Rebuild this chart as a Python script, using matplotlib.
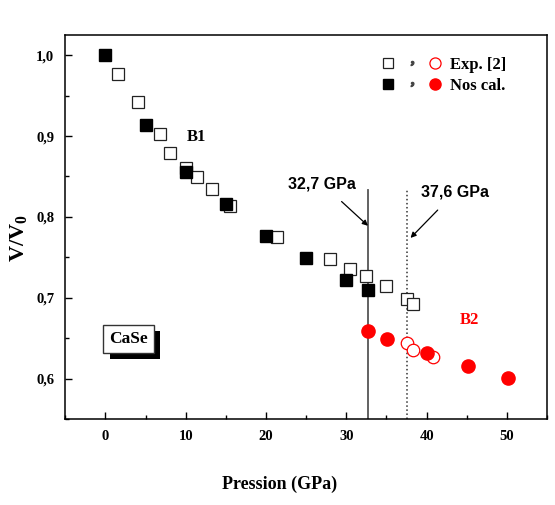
import numpy as np
import matplotlib
matplotlib.use('Agg')
import matplotlib.pyplot as plt
import matplotlib.patheffects as pe
from matplotlib.ticker import MultipleLocator, FuncFormatter
from matplotlib.lines import Line2D
from matplotlib.legend_handler import HandlerTuple

plt.rcParams['font.family'] = 'Liberation Serif'
plt.rcParams['font.weight'] = 'bold'
plt.rcParams['axes.labelweight'] = 'bold'
plt.rcParams['mathtext.fontset'] = 'custom'
plt.rcParams['mathtext.bf'] = 'Liberation Serif:bold'
plt.rcParams['mathtext.rm'] = 'Liberation Serif:bold'

# experimental B1 (open squares)
exp_b1_p = [1.5, 4.1, 6.75, 8.0, 10.0, 11.4, 13.25, 15.5, 21.4, 28.0, 30.4, 32.5, 35.0, 37.6, 38.25]
exp_b1_v = [0.977, 0.942, 0.902, 0.879, 0.861, 0.849, 0.834, 0.813, 0.775, 0.748, 0.735, 0.727, 0.714, 0.698, 0.692]
# calculated B1 (filled squares)
cal_b1_p = [0, 5, 10, 15, 20, 25, 30, 32.7]
cal_b1_v = [1.0, 0.914, 0.856, 0.816, 0.776, 0.749, 0.722, 0.709]
# experimental B2 (open circles)
exp_b2_p = [37.5, 38.3, 40.8]
exp_b2_v = [0.644, 0.635, 0.627]
# calculated B2 (filled circles)
cal_b2_p = [32.7, 35.1, 40.1, 45.1, 50.2]
cal_b2_v = [0.659, 0.649, 0.632, 0.616, 0.601]

p_trans_cal = 32.7
p_trans_exp = 37.6

fig = plt.figure(figsize=(5.55, 5.05), dpi=100)
ax = fig.add_axes([0.1177, 0.1703, 0.8679, 0.7604])

ms = 8.5
ax.plot(exp_b1_p, exp_b1_v, 's', ms=ms, mfc='white', mec='#222222', mew=0.9, ls='none', zorder=3)
ax.plot(cal_b1_p, cal_b1_v, 's', ms=ms, mfc='black', mec='black', ls='none', zorder=4)
ax.plot(exp_b2_p, exp_b2_v, 'o', ms=ms+0.5, mfc='white', mec='red', mew=0.9, ls='none', zorder=3)
ax.plot(cal_b2_p, cal_b2_v, 'o', ms=ms+1, mfc='red', mec='red', ls='none', zorder=4)

# transition pressures
ax.plot([p_trans_cal, p_trans_cal], [0.55, 0.833], '-', color='#555555', lw=1.3, zorder=2)
ax.plot([p_trans_exp, p_trans_exp], [0.55, 0.833], ':', color='#333333', lw=1.1, zorder=2)

sans = ['Liberation Sans', 'DejaVu Sans']
ax.annotate('32,7 GPa', xy=(32.7, 0.789), xytext=(27.0, 0.841), ha='center', va='center',
            fontsize=11.5, family=sans, weight='bold',
            arrowprops=dict(arrowstyle='-|>', color='black', lw=0.9, shrinkA=8, shrinkB=0,
                            mutation_scale=8))
ax.annotate('37,6 GPa', xy=(38.0, 0.774), xytext=(43.6, 0.831), ha='center', va='center',
            fontsize=11.5, family=sans, weight='bold',
            arrowprops=dict(arrowstyle='-|>', color='black', lw=0.9, shrinkA=8, shrinkB=0,
                            mutation_scale=8))

ax.text(11.3, 0.8994, 'B1', fontsize=12, ha='center', va='center')
ax.text(45.4, 0.673, 'B2', fontsize=12, ha='center', va='center', color='red')

# CaSe label with drop shadow
t = ax.text(2.9, 0.649, 'CaSe', fontsize=12.5, ha='center', va='center', color='black',
            bbox=dict(boxstyle='square,pad=0.35', fc='white', ec='#333333', lw=1), zorder=6)
t.get_bbox_patch().set_path_effects([
    pe.SimplePatchShadow(offset=(4.5, -4.5), shadow_rgbFace='black', alpha=1.0),
    pe.Normal()])

# legend
comma = Line2D([], [], marker='$,$', color='#444444', ls='none', ms=3)
h_exp = (Line2D([], [], marker='s', ms=7, mfc='white', mec='#222222', mew=0.9, ls='none'),
         comma,
         Line2D([], [], marker='o', ms=8, mfc='white', mec='red', mew=0.9, ls='none'))
h_cal = (Line2D([], [], marker='s', ms=7, mfc='black', mec='black', ls='none'),
         comma,
         Line2D([], [], marker='o', ms=8, mfc='red', mec='red', ls='none'))
ax.legend([h_exp, h_cal], ['Exp. [2]', 'Nos cal.'], loc='upper right',
          bbox_to_anchor=(0.95, 0.986),
          handler_map={tuple: HandlerTuple(ndivide=None, pad=0.6)},
          handlelength=3.6, frameon=False, fontsize=12, borderaxespad=0.6,
          handletextpad=0.5, labelspacing=0.3)

ax.set_xlim(-5, 55)
ax.set_ylim(0.55, 1.025)
ax.xaxis.set_major_locator(MultipleLocator(10))
ax.xaxis.set_minor_locator(MultipleLocator(5))
ax.yaxis.set_major_locator(MultipleLocator(0.1))
ax.yaxis.set_minor_locator(MultipleLocator(0.05))
ax.yaxis.set_major_formatter(FuncFormatter(lambda v, pos: ('%.1f' % v).replace('.', ',')))
ax.tick_params(which='both', direction='in', top=False, right=False, labelsize=10.5)
ax.tick_params(which='major', length=5, width=1)
ax.tick_params(which='minor', length=2.7, width=1)
ax.tick_params(axis='x', pad=8)
ax.tick_params(axis='y', pad=8)
for s in ax.spines.values():
    s.set_linewidth(1.1)

ax.set_xlabel('Pression (GPa)', fontsize=13)
ax.xaxis.set_label_coords(0.4457, -0.148)
ax.set_ylabel(r'$\mathbf{V/V_0}$', fontsize=16)
ax.yaxis.set_label_coords(-0.075, 0.47)

fig.savefig('out.png', dpi=100)
